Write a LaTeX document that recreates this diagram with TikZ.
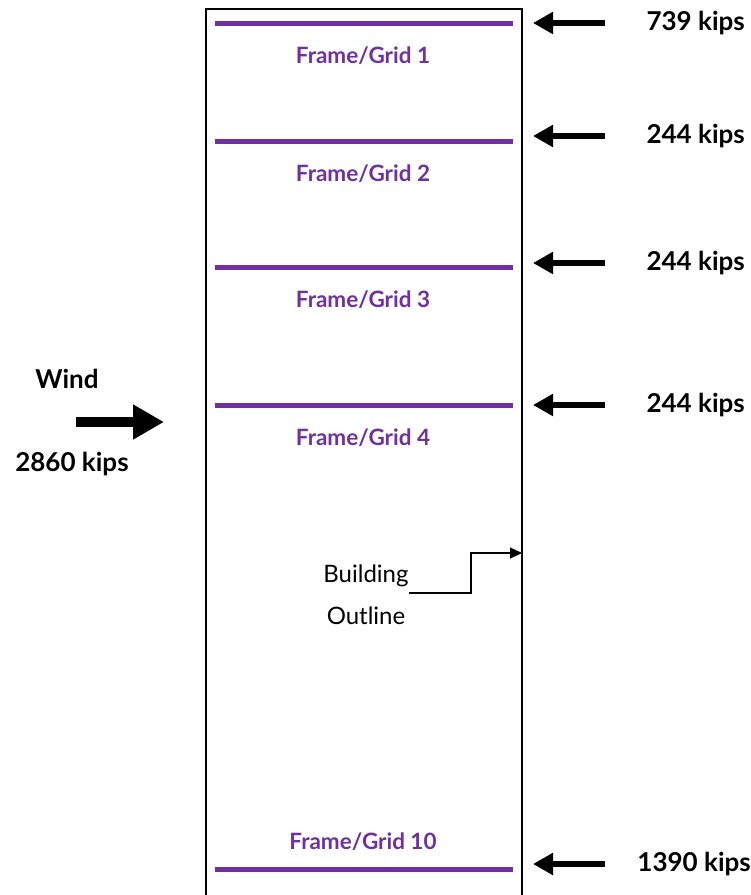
\documentclass[tikz,border=0pt]{standalone}
\usepackage{fontspec}
\setmainfont{Lato}
\usetikzlibrary{arrows.meta}
\definecolor{gridpurple}{HTML}{7030A0}
\begin{document}
\begin{tikzpicture}[x=1pt,y=-1pt,
  gridline/.style={draw=gridpurple,line width=5pt},
  gridlabel/.style={text=gridpurple,font=\fontsize{22.5}{26}\selectfont\bfseries,inner sep=0pt},
  loadarrow/.style={draw=black,line width=6pt,-{Triangle[length=20pt,width=21pt]}},
  loadlabel/.style={font=\fontsize{26}{30}\selectfont\bfseries,inner sep=0pt},
  plainlabel/.style={font=\fontsize{24}{28}\selectfont,inner sep=0pt}]
\useasboundingbox (0,0) rectangle (751,895);
% building outline (open at bottom)
\coordinate (bl) at (206,895);
\coordinate (tl) at (206,9);
\coordinate (tr) at (522,9);
\coordinate (br) at (522,895);
\draw[line width=1.3pt] (bl) -- (tl) -- (tr) -- (br);
% frame lines
\foreach \n/\y in {1/23,2/141,3/267,4/405,10/869}{
  \coordinate (g\n a) at (215,\y);
  \coordinate (g\n b) at (513,\y);
  \draw[gridline] (g\n a) -- (g\n b);
}
\node[gridlabel] (f1) at (363,56) {Frame/Grid 1};
\node[gridlabel] (f2) at (363,174) {Frame/Grid 2};
\node[gridlabel] (f3) at (363,300) {Frame/Grid 3};
\node[gridlabel] (f4) at (363,438) {Frame/Grid 4};
\node[gridlabel] (f10) at (363,842) {Frame/Grid 10};
% reaction arrows
\foreach \n/\y in {1/23,2/136,3/263,4/405,10/864}{
  \coordinate (rs\n) at (605,\y);
  \coordinate (re\n) at (533,\y);
  \draw[loadarrow] (rs\n) -- (re\n);
}
\node[loadlabel,anchor=east] (l1) at (745,23) {739 kips};
\node[loadlabel,anchor=east] (l2) at (745,136) {244 kips};
\node[loadlabel,anchor=east] (l3) at (745,263) {244 kips};
\node[loadlabel,anchor=east] (l4) at (745,405) {244 kips};
\node[loadlabel,anchor=east] (l10) at (751,864) {1390 kips};
% wind
\node[loadlabel] (wind) at (67,379) {Wind};
\node[loadlabel] (windload) at (72,464) {2860 kips};
\coordinate (ws) at (76,422);
\coordinate (we) at (164,422);
\draw[draw=black,line width=10pt,-{Triangle[length=31pt,width=33pt]}] (ws) -- (we);
% building outline callout
\node[plainlabel] (bld) at (366,576) {Building};
\node[plainlabel] (out) at (366,616) {Outline};
\coordinate (c0) at (409,593);
\coordinate (c1) at (471,593);
\coordinate (c2) at (471,553);
\coordinate (c3) at (522,553);
\draw[line width=1.3pt,-{Triangle[length=12pt,width=11pt]}] (c0) -- (c1) -- (c2) -- (c3);
\end{tikzpicture}
\end{document}
